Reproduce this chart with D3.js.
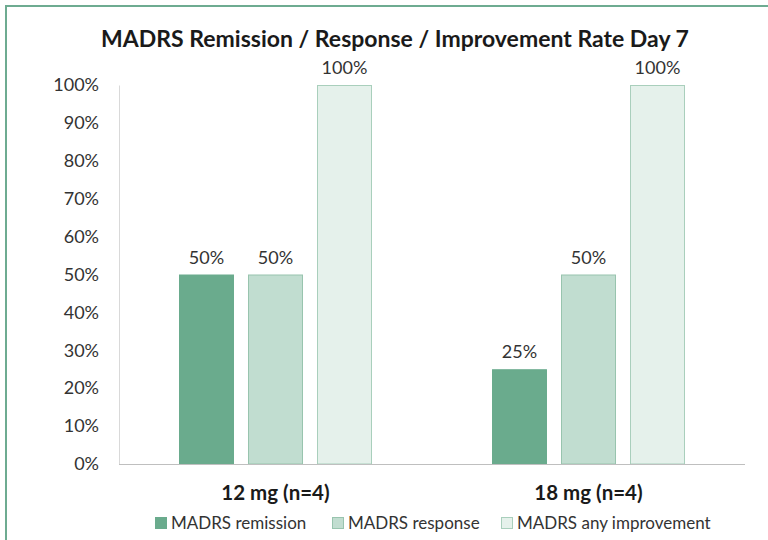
<!DOCTYPE html>
<html>
<head>
<meta charset="utf-8">
<script src="https://cdn.jsdelivr.net/npm/d3@7"></script>
<style>
  body { margin: 0; background: #fff; }
  svg { display: block; font-family: Lato, "Open Sans", sans-serif; }
</style>
</head>
<body>
<div id="chart"></div>
<script>
// chart data
const groups = ['12 mg (n=4)', '18 mg (n=4)'];
const series = ['MADRS remission', 'MADRS response', 'MADRS any improvement'];
const remission = [0.50, 0.25];
const response = [0.50, 0.50];
const anyImprovement = [1.00, 1.00];
const yTicks = [0, 0.1, 0.2, 0.3, 0.4, 0.5, 0.6, 0.7, 0.8, 0.9, 1.0];

const values = [remission, response, anyImprovement];
const fills = ['#6aab8d', '#c1ddd0', '#e5f1eb'];
const strokes = ['#6aab8d', '#98c4ae', '#a9cfbc'];

var width = 768;
var height = 540;
var plotLeft = 119, plotRight = 745, plotTop = 85, plotBottom = 464;

const svg = d3.select('#chart').append('svg')
    .attr('width', width)
    .attr('height', height);

// outer frame
svg.append('rect')
    .attr('x', 6).attr('y', 6)
    .attr('width', width + 20).attr('height', height + 20)
    .attr('fill', 'white')
    .attr('stroke', '#6eab91')
    .attr('stroke-width', 2);

const x0 = d3.scaleBand().domain(groups).range([plotLeft, plotRight])
    .paddingInner(0.3834).paddingOuter(0.1917);
const x1 = d3.scaleBand().domain(series).range([0, x0.bandwidth()])
    .paddingInner(0.203).paddingOuter(0);
const y = d3.scaleLinear().domain([0, 1]).range([plotBottom, plotTop]);

// title
svg.append('text')
    .attr('x', 395).attr('y', 47)
    .attr('text-anchor', 'middle')
    .attr('font-size', 23)
    .attr('font-weight', 'bold')
    .attr('fill', '#1a1a1a')
    .text('MADRS Remission / Response / Improvement Rate Day 7');

// y axis
const yAxis = svg.append('g')
    .attr('transform', 'translate(' + plotLeft + ',0)')
    .call(d3.axisLeft(y).tickValues(yTicks).tickSize(0).tickPadding(20)
        .tickFormat(d3.format('.0%')));
yAxis.select('.domain').attr('stroke', '#d9d9d9');
yAxis.selectAll('text')
    .attr('font-size', 18)
    .attr('font-family', 'Lato, sans-serif')
    .attr('fill', '#333333');

// bars
groups.forEach(function (g, gi) {
    const grp = svg.append('g').attr('transform', 'translate(' + x0(g) + ',0)');
    series.forEach(function (s, si) {
        const v = values[si][gi];
        grp.append('rect')
            .attr('x', x1(s) + 0.5)
            .attr('y', y(v) + 0.5)
            .attr('width', x1.bandwidth() - 1)
            .attr('height', plotBottom - y(v) - 0.5)
            .attr('fill', fills[si])
            .attr('stroke', strokes[si])
            .attr('stroke-width', 1);
        grp.append('text')
            .attr('x', x1(s) + x1.bandwidth() / 2)
            .attr('y', y(v) - 11)
            .attr('text-anchor', 'middle')
            .attr('font-size', 18)
            .attr('fill', '#333333')
            .text(d3.format('.0%')(v));
    });
});

// x baseline
svg.append('line')
    .attr('x1', plotLeft).attr('x2', plotRight)
    .attr('y1', plotBottom + 0.5).attr('y2', plotBottom + 0.5)
    .attr('stroke', '#bfbfbf');

// category labels
svg.selectAll('.cat').data(groups).enter().append('text')
    .attr('class', 'cat')
    .attr('x', d => x0(d) + x0.bandwidth() / 2)
    .attr('y', 500)
    .attr('text-anchor', 'middle')
    .attr('font-size', 20.5)
    .attr('font-weight', 'bold')
    .attr('fill', '#1a1a1a')
    .text(d => d);

// legend
const legendX = [155, 332, 501];
const legend = svg.selectAll('.leg').data(series).enter().append('g')
    .attr('class', 'leg')
    .attr('transform', (d, i) => 'translate(' + legendX[i] + ',517)');
legend.append('rect')
    .attr('x', 0.5).attr('y', 0.5)
    .attr('width', 11).attr('height', 11)
    .attr('fill', (d, i) => fills[i])
    .attr('stroke', (d, i) => strokes[i]);
legend.append('text')
    .attr('x', 16).attr('y', 12)
    .attr('font-size', 17)
    .attr('fill', '#333333')
    .text(d => d);
</script>
</body>
</html>
